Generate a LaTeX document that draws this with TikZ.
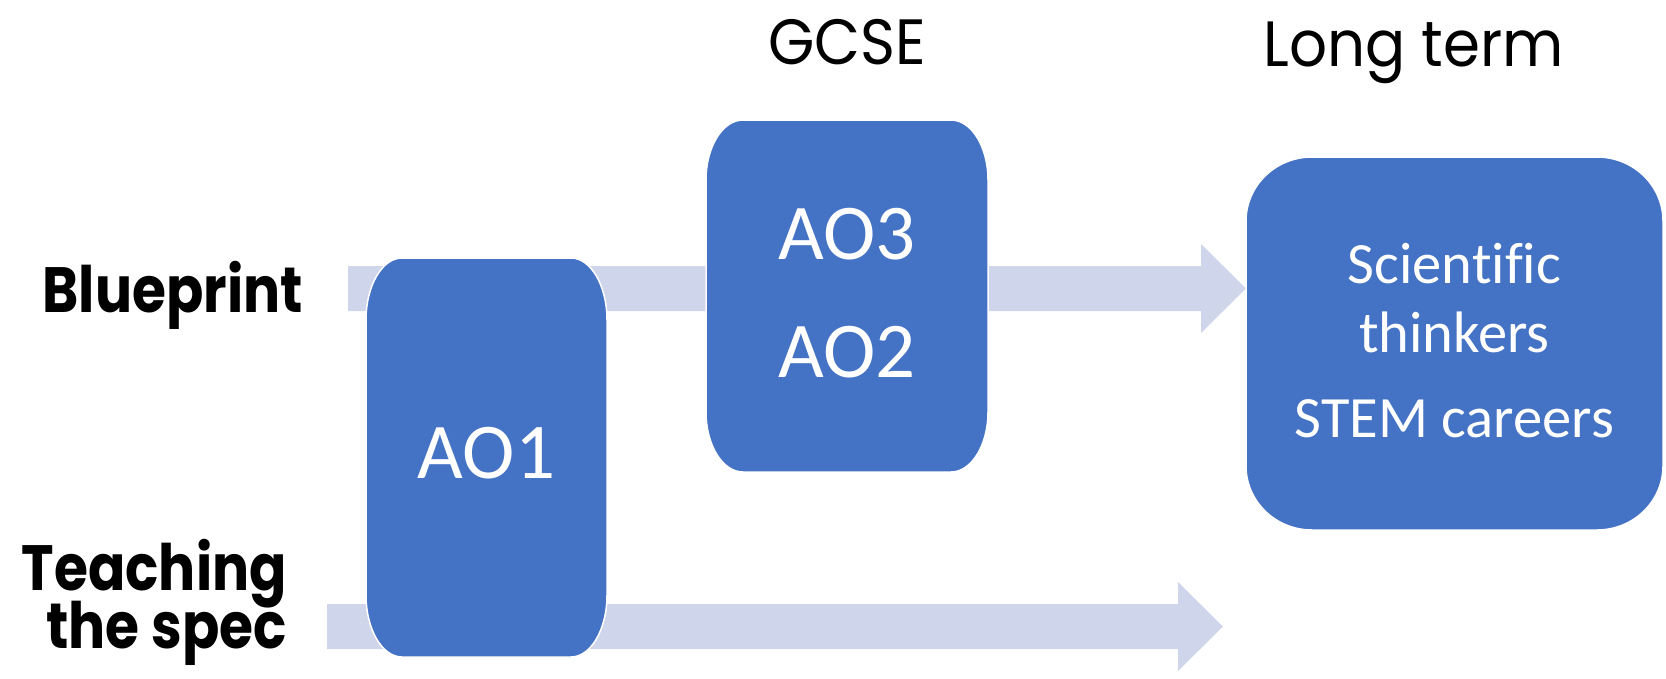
\documentclass[tikz,border=0pt]{standalone}
\usepackage{fontspec}
\setmainfont{Carlito}[Ligatures=NoCommon]
\newfontfamily\headfont{Poppins}[FakeStretch=0.93]
\newfontfamily\rowfont{Poppins}[FakeStretch=0.86]
\usetikzlibrary{calc}

\definecolor{boxblue}{HTML}{4472C4}
\definecolor{bandlav}{HTML}{CFD5EA}

\pgfdeclarelayer{bands}
\pgfdeclarelayer{boxes}
\pgfsetlayers{bands,boxes,main}

\tikzset{
  frame/.style={inner sep=0pt, outer sep=0pt},
  boxshape/.style={fill=boxblue, draw=white, line width=1.5pt},
  band/.style={fill=bandlav},
  boxtext/.style={inner sep=0pt, text=white},
  rowlabel/.style={inner sep=0pt, font=\rowfont\bfseries\fontsize{64}{64}\selectfont},
  colhead/.style={inner sep=0pt, font=\headfont\fontsize{64}{64}\selectfont},
}

% wide arrow band from #1 to the tip #2
\newcommand\bandarrow[2]{%
  \fill[band] ($(#1)+(0,-22.5)$) -- ($(#2)+(-45,-22.5)$) -- ($(#2)+(-45,-44.5)$)
    -- (#2) -- ($(#2)+(-45,44.5)$) -- ($(#2)+(-45,22.5)$) -- ($(#1)+(0,22.5)$) -- cycle;}

% rectangle with elliptical corners drawn over the frame of node #1
\newcommand\roundbox[3]{%
  \filldraw[boxshape] ([xshift=#2]#1.north west) -- ([xshift=-#2]#1.north east)
    arc[start angle=90,end angle=0,x radius=#2,y radius=#3]
    -- ([yshift=#3]#1.south east)
    arc[start angle=0,end angle=-90,x radius=#2,y radius=#3]
    -- ([xshift=#2]#1.south west)
    arc[start angle=-90,end angle=-180,x radius=#2,y radius=#3]
    -- ([yshift=-#3]#1.north west)
    arc[start angle=180,end angle=90,x radius=#2,y radius=#3] -- cycle;}

\begin{document}
\begin{tikzpicture}[x=1pt,y=-1pt]
\useasboundingbox (0,0) rectangle (1666,678);

% box frames
\node[frame, minimum width=241pt, minimum height=399pt] (ao1box) at (486.5,457.5) {};
\node[frame, minimum width=282pt, minimum height=352pt] (gcsebox) at (847,296) {};
\node[frame, minimum width=417pt, minimum height=373pt] (ltbox) at (1454.5,343.5) {};

% arrow ends
\coordinate (bpS) at (348,288.5);
\coordinate (bpE) at (bpS -| ltbox.west);
\coordinate (tsS) at (327,626.5);
\coordinate (tsE) at (1223,626.5);

\begin{pgfonlayer}{bands}
  \bandarrow{bpS}{bpE}
  \bandarrow{tsS}{tsE}
\end{pgfonlayer}

\begin{pgfonlayer}{boxes}
  \roundbox{ao1box}{36pt}{62pt}
  \roundbox{gcsebox}{37pt}{60pt}
  \roundbox{ltbox}{66pt}{64pt}
\end{pgfonlayer}

% box texts
\begin{scope}[every node/.append style={boxtext, anchor=base}]
  \node[font=\fontsize{79}{79}\selectfont] (ao1txt) at (486.5,478) {AO1};
  \node[font=\fontsize{79}{79}\selectfont] (ao3txt) at (847,259) {AO3};
  \node[font=\fontsize{79}{79}\selectfont] (ao2txt) at (847,377) {AO2};
  \node[font=\fontsize{58.5}{58.5}\selectfont] (sci) at (1454.5,283) {Scientific};
  \node[font=\fontsize{58.5}{58.5}\selectfont] (thk) at (1454.5,352) {thinkers};
  \node[font=\fontsize{58.5}{58.5}\selectfont] (stem) at (1454.5,437) {STEM careers};
\end{scope}

% row labels
\node[rowlabel, anchor=base east] (bp) at (303,312) {Blueprint};
\node[rowlabel, anchor=base east] (ts1) at (287,590) {Teaching};
\node[rowlabel, anchor=base east] (ts2) at (287,648) {the spec};

% column headings
\node[colhead, anchor=base] (gcse) at (847.5,64) {GCSE};
\node[colhead, anchor=base] (lterm) at (1413.5,66) {Long term};
\end{tikzpicture}
\end{document}
